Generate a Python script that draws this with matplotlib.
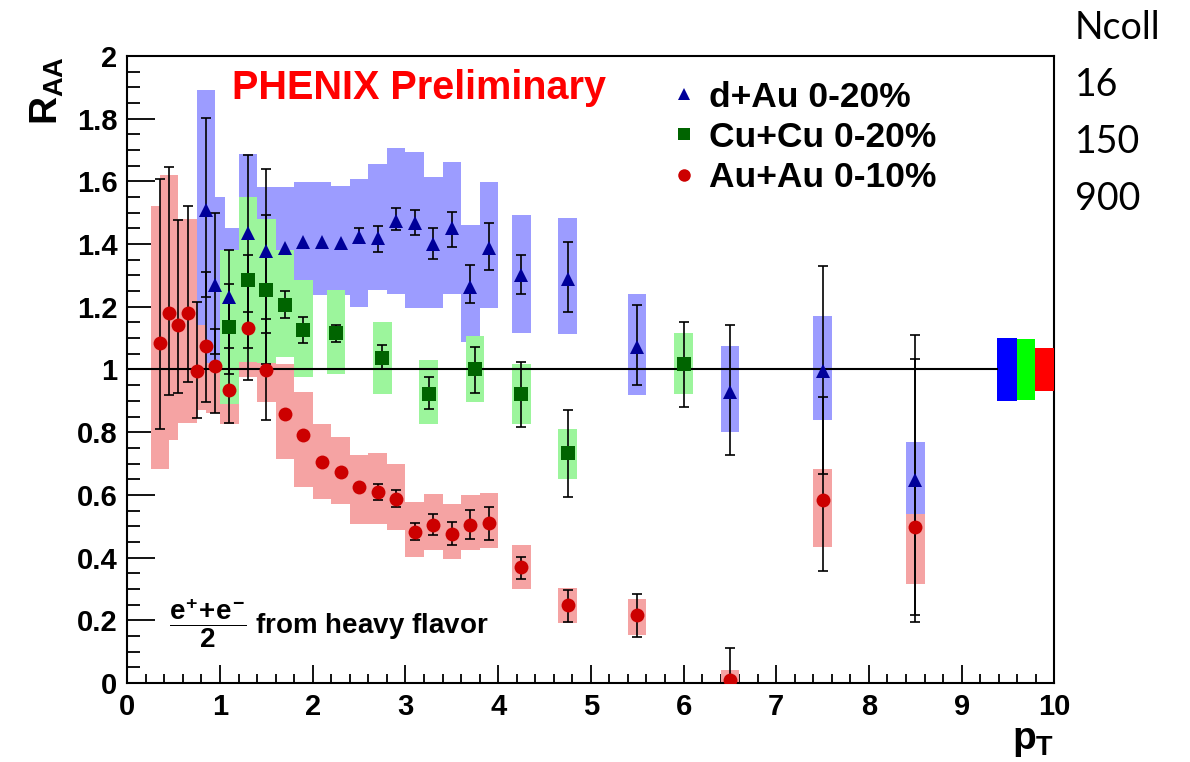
import matplotlib
matplotlib.use("Agg")
import matplotlib.pyplot as plt
from matplotlib.lines import Line2D
from matplotlib.ticker import MultipleLocator, FuncFormatter
import numpy as np

plt.rcParams['font.family'] = ['Liberation Sans', 'DejaVu Sans']
plt.rcParams['font.weight'] = 'bold'
plt.rcParams['mathtext.fontset'] = 'custom'
plt.rcParams['mathtext.rm'] = 'Liberation Sans:bold'
plt.rcParams['mathtext.it'] = 'Liberation Sans:bold'
plt.rcParams['mathtext.bf'] = 'Liberation Sans:bold'

# d+Au 0-20%
dau_pt = [0.85, 0.95, 1.1, 1.3, 1.5, 1.7, 1.9, 2.1, 2.3, 2.5, 2.7, 2.9, 3.1, 3.3, 3.5, 3.7, 3.9, 4.25, 4.75, 5.5, 6.5, 7.5, 8.5]
dau_raa = [1.508, 1.269, 1.23, 1.434, 1.379, 1.386, 1.407, 1.407, 1.404, 1.423, 1.418, 1.474, 1.466, 1.399, 1.45, 1.264, 1.386, 1.301, 1.29, 1.072, 0.929, 0.996, 0.647]
dau_stat_lo = [1.232, 1.051, 1.07, 1.184, 1.117, 1.386, 1.407, 1.407, 1.404, 1.402, 1.376, 1.444, 1.429, 1.354, 1.391, 1.211, 1.317, 1.242, 1.184, 0.95, 0.726, 0.668, 0.216]
dau_stat_hi = [1.801, 1.498, 1.381, 1.684, 1.641, 1.386, 1.407, 1.407, 1.404, 1.45, 1.457, 1.514, 1.508, 1.45, 1.503, 1.333, 1.466, 1.365, 1.407, 1.205, 1.141, 1.33, 1.109]
dau_sys_lo = [1.123, 0.99, 1.01, 1.18, 1.175, 1.19, 1.237, 1.237, 1.237, 1.20, 1.253, 1.242, 1.195, 1.195, 1.242, 1.088, 1.195, 1.117, 1.113, 0.918, 0.801, 0.838, 0.54]
dau_sys_hi = [1.893, 1.551, 1.45, 1.689, 1.583, 1.583, 1.599, 1.599, 1.585, 1.609, 1.657, 1.705, 1.695, 1.615, 1.663, 1.461, 1.599, 1.492, 1.482, 1.242, 1.074, 1.17, 0.769]

# Cu+Cu 0-20%
cucu_pt = [1.1, 1.3, 1.5, 1.7, 1.9, 2.25, 2.75, 3.25, 3.75, 4.25, 4.75, 6.0]
cucu_raa = [1.134, 1.287, 1.255, 1.205, 1.127, 1.117, 1.037, 0.923, 1.0, 0.923, 0.734, 1.017]
cucu_stat_lo = [0.987, 1.067, 1.018, 1.163, 1.085, 1.088, 1.003, 0.875, 0.925, 0.817, 0.593, 0.881]
cucu_stat_hi = [1.274, 1.365, 1.492, 1.251, 1.166, 1.141, 1.077, 0.976, 1.072, 1.024, 0.870, 1.152]
cucu_sys_lo = [0.891, 1.024, 1.02, 1.04, 0.976, 0.987, 0.923, 0.827, 0.897, 0.827, 0.652, 0.923]
cucu_sys_hi = [1.381, 1.549, 1.479, 1.381, 1.285, 1.253, 1.152, 1.03, 1.106, 1.019, 0.811, 1.115]

# Au+Au 0-10%
auau_pt = [0.35, 0.45, 0.55, 0.65, 0.75, 0.85, 0.95, 1.1, 1.3, 1.5, 1.7, 1.9, 2.1, 2.3, 2.5, 2.7, 2.9, 3.1, 3.3, 3.5, 3.7, 3.9, 4.25, 4.75, 5.5, 6.5, 7.5, 8.5]
auau_raa = [1.083, 1.179, 1.141, 1.179, 0.996, 1.074, 1.011, 0.934, 1.131, 0.998, 0.859, 0.790, 0.705, 0.673, 0.625, 0.609, 0.588, 0.482, 0.503, 0.476, 0.503, 0.51, 0.370, 0.248, 0.216, 0.0085, 0.583, 0.498]
auau_stat_lo = [0.809, 0.918, 0.926, 0.961, 0.844, 0.897, 0.86, 0.828, 0.966, 0.838, 0.859, 0.790, 0.705, 0.673, 0.625, 0.584, 0.56, 0.455, 0.471, 0.439, 0.46, 0.455, 0.333, 0.195, 0.147, 0.0, 0.357, 0.195]
auau_stat_hi = [1.609, 1.647, 1.476, 1.521, 1.216, 1.312, 1.13, 1.216, 1.30, 1.16, 0.859, 0.790, 0.705, 0.673, 0.625, 0.634, 0.615, 0.51, 0.54, 0.514, 0.551, 0.562, 0.402, 0.296, 0.285, 0.11, 0.913, 1.035]
auau_sys_lo = [0.684, 0.776, 0.85, 0.83, 0.87, 0.87, 0.86, 0.825, 0.976, 0.897, 0.716, 0.625, 0.586, 0.572, 0.508, 0.508, 0.487, 0.402, 0.423, 0.397, 0.423, 0.429, 0.301, 0.191, 0.152, 0.0, 0.434, 0.317]
auau_sys_hi = [1.521, 1.62, 1.45, 1.479, 1.141, 1.02, 1.02, 1.04, 1.20, 1.024, 1.019, 0.929, 0.827, 0.785, 0.726, 0.734, 0.70, 0.577, 0.604, 0.572, 0.599, 0.606, 0.439, 0.304, 0.269, 0.04, 0.684, 0.54]

# global normalisation uncertainties (d+Au, Cu+Cu, Au+Au)
norm_unc = [0.102, 0.097, 0.069]

labels = ['d+Au 0-20%', 'Cu+Cu 0-20%', 'Au+Au 0-10%']
ncoll = ['Ncoll', '16', '150', '900']

box_colors = ['#9c9cff', '#9cf59c', '#f5a3a3']
norm_colors = ['#0000ff', '#00ff00', '#ff0000']
mk_colors = ['#000099', '#006400', '#cc0000']
markers = ['^', 's', 'o']

fig = plt.figure(figsize=(11.9, 7.62), dpi=100)
ax = fig.add_axes([0.107, 0.1037, 0.779, 0.8228])

series = [
    (dau_pt, dau_raa, dau_stat_lo, dau_stat_hi, dau_sys_lo, dau_sys_hi),
    (cucu_pt, cucu_raa, cucu_stat_lo, cucu_stat_hi, cucu_sys_lo, cucu_sys_hi),
    (auau_pt, auau_raa, auau_stat_lo, auau_stat_hi, auau_sys_lo, auau_sys_hi),
]
box_z = [1, 3, 2]  # Cu+Cu boxes sit on top of Au+Au ones

for i, (pt, raa, slo, shi, ylo, yhi) in enumerate(series):
    ylo = np.array(ylo)
    yhi = np.array(yhi)
    ax.bar(pt, yhi - ylo, bottom=ylo, width=0.2, color=box_colors[i],
           linewidth=0, zorder=box_z[i])

# global uncertainty boxes at the right edge
norm_x = [9.49, 9.695, 9.895]
norm_w = [0.22, 0.19, 0.21]
for i in range(3):
    ax.bar(norm_x[i], 2 * norm_unc[i], bottom=1 - norm_unc[i], width=norm_w[i],
           color=norm_colors[i], linewidth=0, zorder=3)

ax.plot([0, 9.38], [1, 1], color='black', lw=1.5, zorder=4)

for i, (pt, raa, slo, shi, ylo, yhi) in enumerate(series):
    pt = np.array(pt)
    raa = np.array(raa)
    slo = np.array(slo)
    shi = np.array(shi)
    has_err = (shi - slo) > 0  # errors smaller than the marker are not drawn
    ax.errorbar(pt[has_err], raa[has_err],
                yerr=[raa[has_err] - slo[has_err], shi[has_err] - raa[has_err]],
                fmt='none', ecolor='black', elinewidth=1.2,
                capsize=3.5, capthick=1.2, zorder=5)
    ax.plot(pt, raa, linestyle='none', marker=markers[i], color=mk_colors[i],
            markersize=10, markeredgewidth=0, zorder=6 + i)

ax.set_xlim(0, 10)
ax.set_ylim(0, 2)
ax.xaxis.set_major_locator(MultipleLocator(1))
ax.xaxis.set_minor_locator(MultipleLocator(0.2))
ax.yaxis.set_major_locator(MultipleLocator(0.2))
ax.yaxis.set_minor_locator(MultipleLocator(0.05))
ax.yaxis.set_major_formatter(FuncFormatter(lambda v, p: f'{v:g}'))
ax.tick_params(axis='x', which='major', direction='in', length=13, width=1.3, labelsize=21, pad=7)
ax.tick_params(axis='x', which='minor', direction='in', length=6.5, width=1.3)
ax.tick_params(axis='y', which='major', direction='in', length=20, width=1.3, labelsize=21, pad=7)
ax.tick_params(axis='y', which='minor', direction='in', length=9, width=1.3)
for s in ax.spines.values():
    s.set_linewidth(1.5)

ax.set_ylabel(r'$R_{AA}$', fontsize=28, loc='top', labelpad=8)
ax.set_xlabel(r'$p_{T}$', fontsize=28, loc='right', labelpad=2)

ax.text(1.13, 1.898, 'PHENIX Preliminary', color='red', fontsize=28.5,
        fontweight='bold', ha='left', va='center', zorder=10)
ax.text(0.45, 0.19, r'$\dfrac{e^{+}\!+\!e^{-}}{2}$ from heavy flavor', fontsize=20,
        fontweight='bold', ha='left', va='center', zorder=10)

handles = [Line2D([], [], marker=markers[i], color=mk_colors[i], linestyle='none',
                  markersize=9, markeredgewidth=0) for i in range(3)]
ax.legend(handles, labels, loc='upper left', bbox_to_anchor=(0.562, 1.0),
          frameon=False, fontsize=25.5, handlelength=0.6, handletextpad=0.4,
          labelspacing=0.2, borderaxespad=0.3)

for k, t in enumerate(ncoll):
    fig.text(1075 / 1190, 1 - (28 + 57 * k) / 762, t, fontsize=27,
             fontweight='normal', family=['Lato', 'DejaVu Sans'], ha='left', va='center')

fig.savefig('out.png', dpi=100)
